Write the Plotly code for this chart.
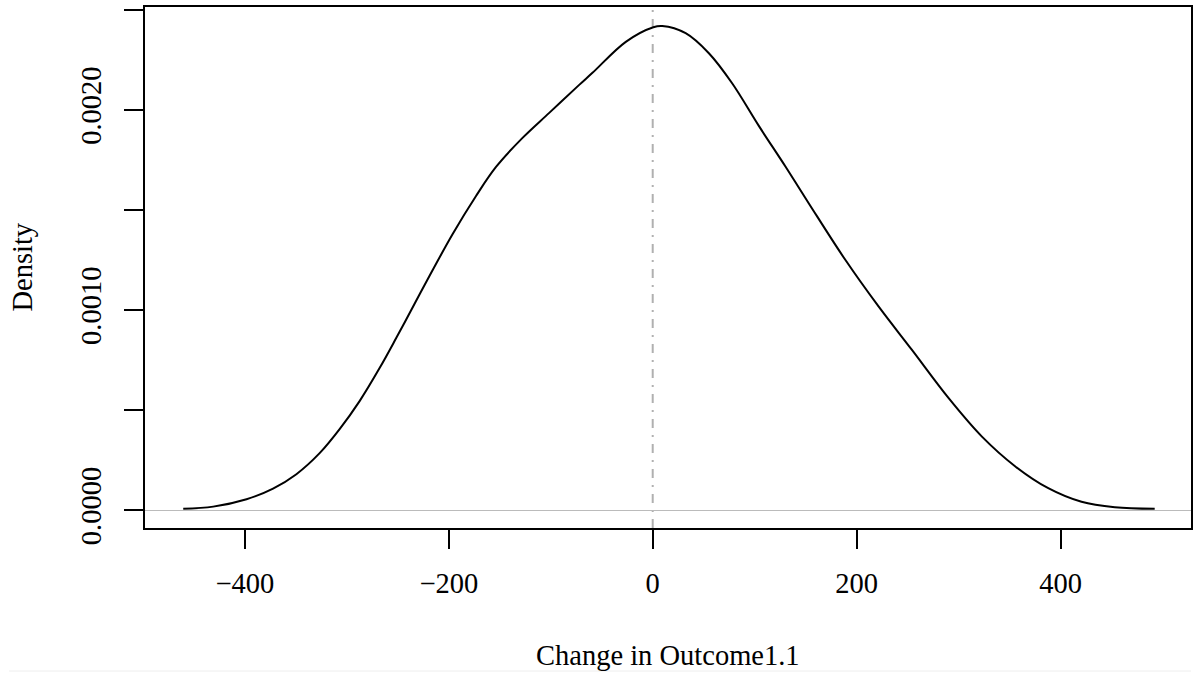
import plotly.graph_objects as go

# Density curve
x_vals = [-460.5, -431.1, -398.4, -372.4, -349.5, -326.7, -307.1, -287.5, -267.9, -251.6,
          -233.7, -219.0, -196.2, -173.3, -153.7, -127.7, -101.5, -72.1, -59.1, -26.4,
          0.6, 9.4, 32.3, 55.1, 77.9, 104.1, 130.2, 153.0, 188.9, 221.5,
          254.1, 290.1, 322.7, 355.4, 388.0, 420.6, 453.3, 492.4]
density = [0.0000070, 0.000018, 0.000055, 0.000108, 0.000180, 0.000285, 0.000405, 0.000545, 0.000710, 0.000860,
           0.001030, 0.001170, 0.001380, 0.001570, 0.001715, 0.001860, 0.001985, 0.002125, 0.002185, 0.002340,
           0.002413, 0.002419, 0.002383, 0.002283, 0.002133, 0.001920, 0.001717, 0.001534, 0.001251, 0.001018,
           0.000802, 0.000561, 0.000369, 0.000220, 0.000110, 0.000042, 0.000015, 0.000007]

x_tick_vals = [-400, -200, 0, 200, 400]
x_tick_text = ["\u2212400", "\u2212200", "0", "200", "400"]
y_tick_vals = [0.0, 0.0005, 0.0010, 0.0015, 0.0020, 0.0025]
y_tick_text = ["0.0000", "", "0.0010", "", "0.0020", ""]

x_title = "Change in Outcome1.1"
y_title = "Density"
ref_x = 0

FONT = "Liberation Serif"
FS = 28.5

fig = go.Figure()
fig.add_trace(go.Scatter(x=x_vals, y=density, mode="lines",
                         line=dict(color="black", width=2, shape="spline", smoothing=1.0),
                         hoverinfo="skip", showlegend=False))

fig.add_shape(type="line", xref="x", yref="paper", x0=ref_x, x1=ref_x, y0=0, y1=1,
              line=dict(color="#b0b0b0", width=2, dash="9px,7px,2px,7px"), layer="below")

# faint screenshot border line at the bottom
fig.add_shape(type="line", xref="paper", yref="paper", x0=-0.13, x1=1.0, y0=-0.2745, y1=-0.2745,
              line=dict(color="#eeeeee", width=1))

fig.update_layout(
    width=1194, height=673,
    margin=dict(l=145, r=1, t=7, b=145),
    plot_bgcolor="white", paper_bgcolor="white",
    font=dict(family=FONT, size=FS, color="black"),
    xaxis=dict(range=[-498, 528], tickvals=x_tick_vals, ticktext=x_tick_text,
               ticks="outside", ticklen=19, tickwidth=2, tickcolor="black",
               showline=True, linecolor="black", linewidth=2, mirror=True,
               showgrid=False, zeroline=False, ticklabelstandoff=10,
               tickfont=dict(family=FONT, size=FS)),
    yaxis=dict(range=[-0.0000888, 0.002514], tickvals=y_tick_vals, ticktext=y_tick_text,
               ticks="outside", ticklen=19, tickwidth=2, tickcolor="black", tickangle=-90,
               showline=True, linecolor="black", linewidth=2, mirror=True,
               showgrid=False, zeroline=True, zerolinecolor="#bbbbbb", zerolinewidth=1,
               ticklabelstandoff=12,
               tickfont=dict(family=FONT, size=FS)),
    annotations=[
        dict(text=x_title, xref="paper", yref="paper", x=0.5, y=-0.244, showarrow=False,
             xanchor="center", yanchor="middle", font=dict(family=FONT, size=FS)),
        dict(text=y_title, xref="paper", yref="paper", x=-0.1175, y=0.5, showarrow=False,
             textangle=-90, xanchor="center", yanchor="middle", font=dict(family=FONT, size=FS)),
    ],
)

fig.write_html("out.html")
